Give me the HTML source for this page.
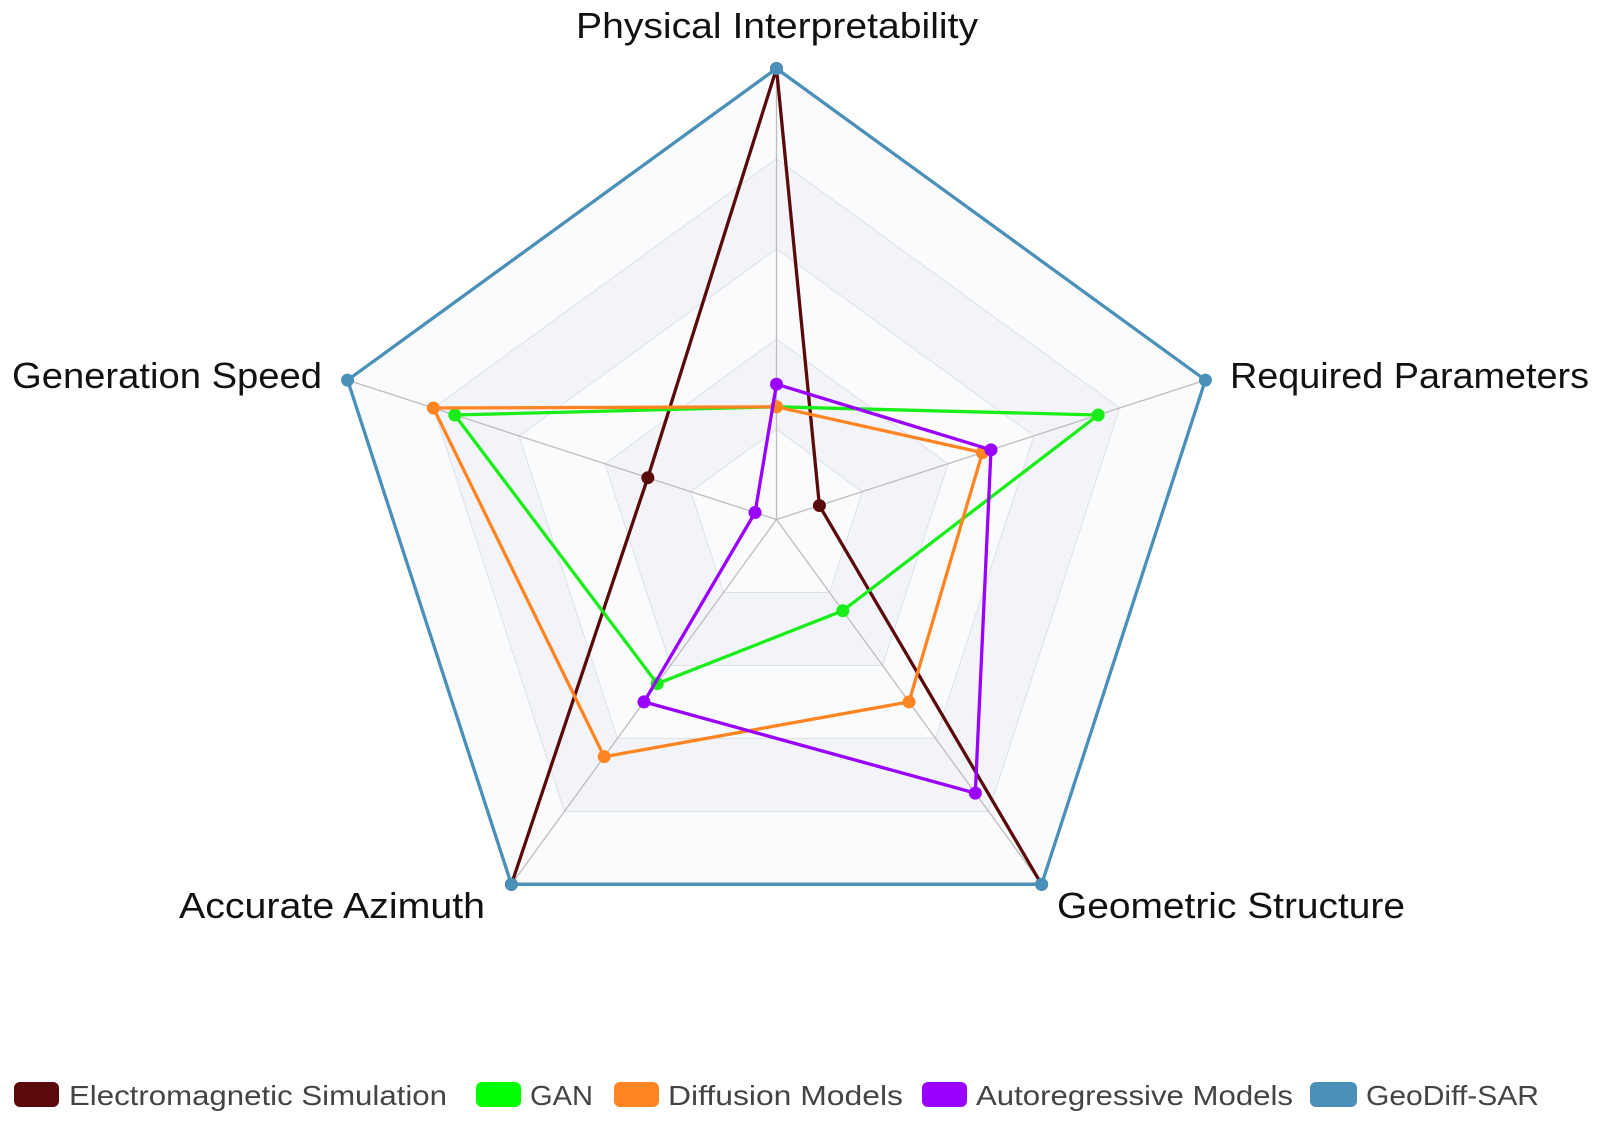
<!DOCTYPE html>
<html><head><meta charset="utf-8"><style>
html,body{margin:0;padding:0;background:#fff;}
svg{display:block;}
text{font-family:"Liberation Sans",sans-serif;}
</style></head><body>
<svg id="s" width="1600" height="1126" viewBox="0 0 1600 1126" xmlns="http://www.w3.org/2000/svg">
<g id="grid"></g>
<g id="series"></g>
<text x="576" y="38" font-size="36" fill="#111" textLength="402" lengthAdjust="spacingAndGlyphs">Physical Interpretability</text>
<text x="1230" y="388" font-size="36" fill="#111" textLength="359" lengthAdjust="spacingAndGlyphs">Required Parameters</text>
<text x="12" y="388" font-size="36" fill="#111" textLength="310" lengthAdjust="spacingAndGlyphs">Generation Speed</text>
<text x="179" y="918" font-size="36" fill="#111" textLength="306" lengthAdjust="spacingAndGlyphs">Accurate Azimuth</text>
<text x="1057" y="918" font-size="36" fill="#111" textLength="348" lengthAdjust="spacingAndGlyphs">Geometric Structure</text>
<g font-size="28" fill="#444">
<rect x="14" y="1082" width="45" height="25" rx="6" fill="#5a0a0a"/>
<text x="69" y="1105" textLength="378" lengthAdjust="spacingAndGlyphs">Electromagnetic Simulation</text>
<rect x="476" y="1082" width="45" height="25" rx="6" fill="#00ff00"/>
<text x="530" y="1105" textLength="63" lengthAdjust="spacingAndGlyphs">GAN</text>
<rect x="614" y="1082" width="45" height="25" rx="6" fill="#ff8522"/>
<text x="668" y="1105" textLength="235" lengthAdjust="spacingAndGlyphs">Diffusion Models</text>
<rect x="922" y="1082" width="45" height="25" rx="6" fill="#9900ff"/>
<text x="976" y="1105" textLength="317" lengthAdjust="spacingAndGlyphs">Autoregressive Models</text>
<rect x="1310" y="1082" width="47" height="25" rx="6" fill="#4a90b8"/>
<text x="1366" y="1105" textLength="173" lengthAdjust="spacingAndGlyphs">GeoDiff-SAR</text>
</g>
</svg>
<script>
var cx=776.5,cy=519.5,R=451,NS="http://www.w3.org/2000/svg";
var ang=[-90,-18,54,126,198].map(function(a){return a*Math.PI/180;});
function pt(i,v){return [cx+R*v*Math.cos(ang[i]),cy+R*v*Math.sin(ang[i])];}
function poly(vals){return vals.map(function(v,i){var p=pt(i,v);return p[0].toFixed(1)+","+p[1].toFixed(1);}).join(" ");}
function el(t,a,par){var e=document.createElementNS(NS,t);for(var k in a)e.setAttribute(k,a[k]);par.appendChild(e);return e;}
var g=document.getElementById("grid");
var fills=["#fafbfd","#f2f4f9","#fafbfd","#f2f4f9","#fafbfd"];
for(var l=5;l>=1;l--){el("polygon",{points:poly([l/5,l/5,l/5,l/5,l/5]),fill:fills[l-1],stroke:"#dde0e8","stroke-width":1},g);}
for(var i=0;i<5;i++){var p=pt(i,1);el("line",{x1:cx,y1:cy,x2:p[0],y2:p[1],stroke:"#bdbdbd","stroke-width":1.3},g);}
var s=document.getElementById("series");
var data=[
["#5a0a0a",[1,0.1,1,1,0.3]],
["#19ee19",[0.25,0.75,0.25,0.45,0.75]],
["#ff8522",[0.25,0.48,0.5,0.65,0.8]],
["#9900ff",[0.3,0.5,0.75,0.5,0.05]],
["#4a90b8",[1,1,1,1,1]]];
data.forEach(function(d){
 el("polygon",{points:poly(d[1]),fill:"none",stroke:d[0],"stroke-width":3.3,"stroke-linejoin":"round"},s);
 d[1].forEach(function(v,i){var p=pt(i,v);el("circle",{cx:p[0],cy:p[1],r:6.5,fill:d[0]},s);});
});
</script>
</body></html>
